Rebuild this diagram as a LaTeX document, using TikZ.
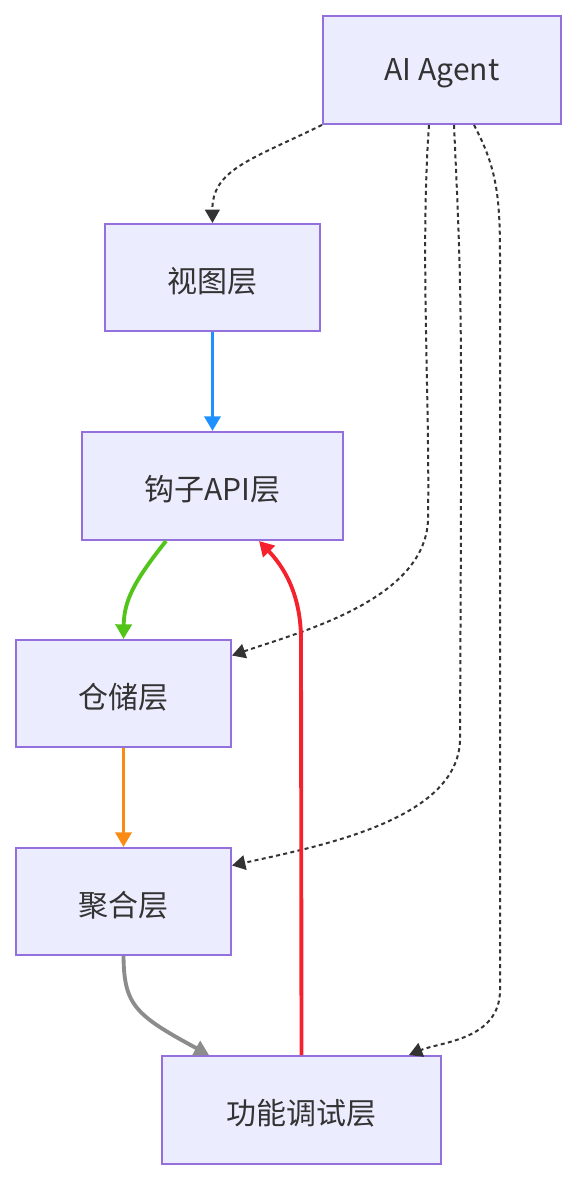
\documentclass[tikz,border=0pt]{standalone}
\usepackage{fontspec}
\setmainfont{Noto Sans CJK SC}
\usetikzlibrary{arrows.meta,calc}
\definecolor{boxfill}{HTML}{ECECFF}
\definecolor{boxline}{HTML}{9370DB}
\definecolor{eblue}{HTML}{1E90FF}
\definecolor{egreen}{HTML}{52C41A}
\definecolor{eorange}{HTML}{FA8C16}
\definecolor{egray}{HTML}{8C8C8C}
\definecolor{ered}{HTML}{F5222D}
\definecolor{edark}{HTML}{333333}
\newcommand{\lowtext}[1]{\raisebox{-2.5pt}[\height][\depth]{#1}}
\begin{document}
\begin{tikzpicture}[x=0.75pt,y=-0.75pt,
  layerbox/.style={draw=boxline,fill=boxfill,line width=1.5pt,inner sep=0pt,
    font=\fontsize{22.5}{26}\selectfont,text=edark},
  dotedge/.style={draw=edark,line width=1.5pt,dash pattern=on 3pt off 2.5pt,
    -{Triangle[width=11pt,length=10pt]}},
  soledge/.style={line width=2.9pt,-{Triangle[width=12pt,length=11pt]}}]
\useasboundingbox (0,0) rectangle (577,1180);
\node[layerbox,minimum width=238*0.75pt,minimum height=108*0.75pt] (ai) at (442,70) {\lowtext{AI Agent}};
\node[layerbox,minimum width=215*0.75pt,minimum height=107*0.75pt] (v) at (212.5,277.5) {\lowtext{视图层}};
\node[layerbox,minimum width=261*0.75pt,minimum height=108*0.75pt] (h) at (212.5,486) {\lowtext{钩子API层}};
\node[layerbox,minimum width=215*0.75pt,minimum height=107*0.75pt] (ca) at (123.5,693.5) {\lowtext{仓储层}};
\node[layerbox,minimum width=215*0.75pt,minimum height=107*0.75pt] (ju) at (123.5,901.5) {\lowtext{聚合层}};
\node[layerbox,minimum width=279*0.75pt,minimum height=108*0.75pt] (gn) at (301.5,1110) {\lowtext{功能调试层}};
% connectors
\draw[dotedge] (ai.south west) .. controls (250,160) and (212,170) .. (v.north);
\draw[dotedge] ($(ai.south west)+(107,0)$) .. controls (420,250) and (430,400) .. (428,520)
   .. controls (425,600) and (300,632) .. ($(ca.east)+(0,-38)$);
\draw[dotedge] ($(ai.south west)+(132,0)$) .. controls (462,300) .. (460,740)
   .. controls (458,820) and (320,846) .. ($(ju.east)+(0,-36)$);
\draw[dotedge] ($(ai.south west)+(152,0)$) .. controls (498,170) and (500,200) .. (500,260)
   -- (500,990) .. controls (500,1040) and (440,1042) .. ($(gn.north west)+(248,0)$);
\draw[soledge,draw=eblue] (v.south) -- (h.north);
\draw[soledge,draw=egreen] ($(h.south west)+(85,0)$) .. controls (135,580) and (124,600) .. (ca.north);
\draw[soledge,draw=eorange] (ca.south) -- (ju.north);
\draw[soledge,draw=egray] (ju.south) .. controls (124,1005) and (135,1015) .. ($(gn.north west)+(48,0)$);
\draw[soledge,draw=ered] (gn.north) -- (301,640) .. controls (301,592) and (282,565) .. ($(h.south west)+(178,0)$);
\end{tikzpicture}
\end{document}
